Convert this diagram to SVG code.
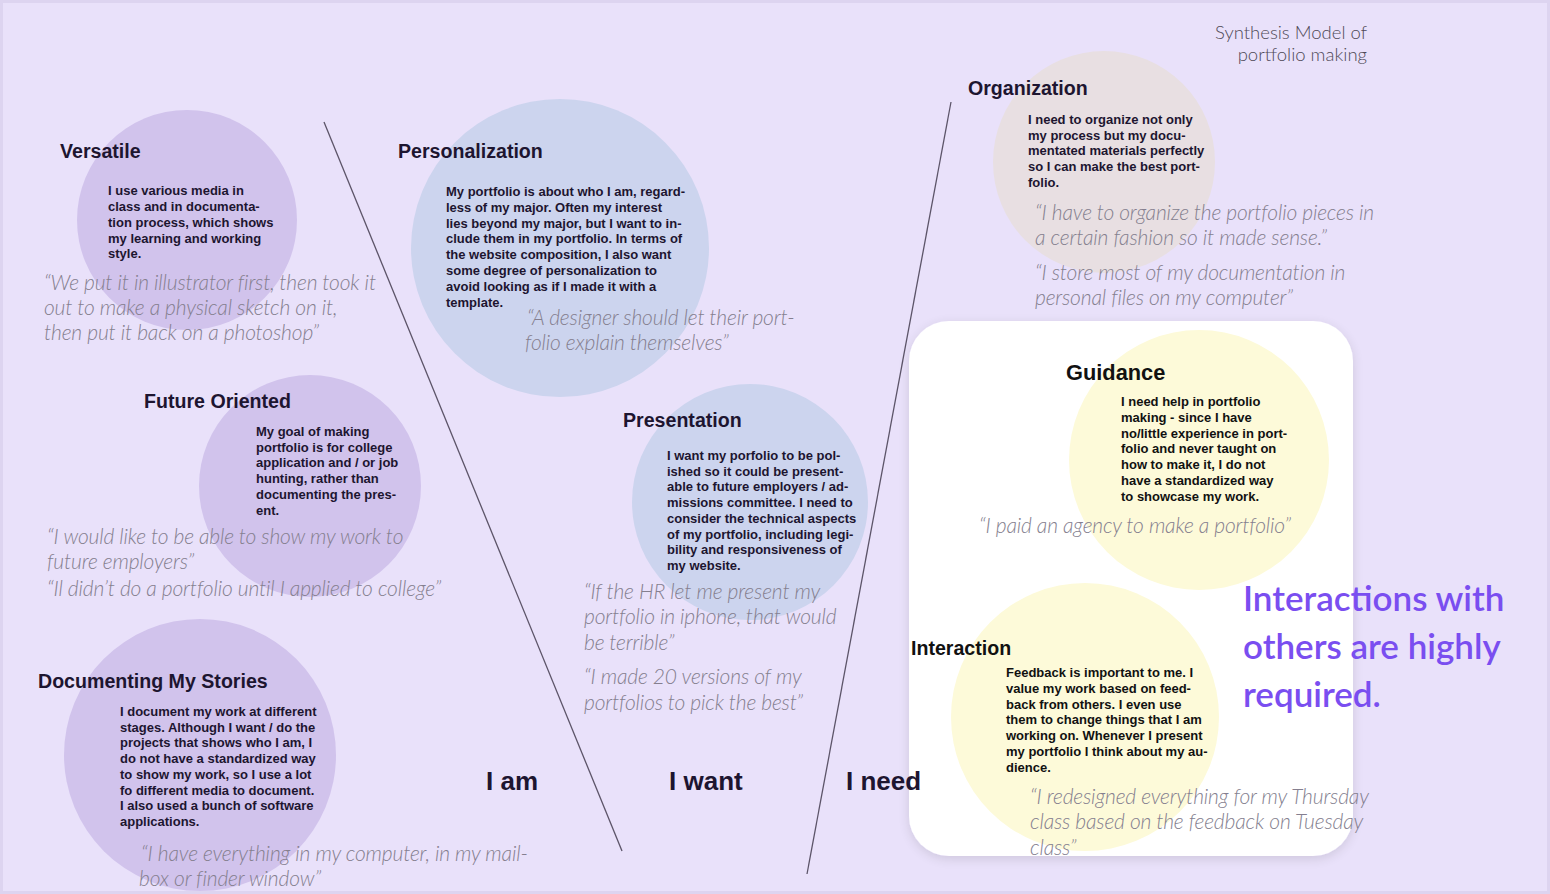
<svg xmlns="http://www.w3.org/2000/svg" width="1550" height="894" viewBox="0 0 1550 894">
<defs>
<style>
.h{font-family:"Liberation Sans",Arial,sans-serif;font-weight:bold;font-size:19.6px;fill:#1d1530}
.b{font-family:"Liberation Sans",Arial,sans-serif;font-weight:bold;font-size:13px;fill:#1d1530}
.q{font-family:Lato,"Liberation Sans",sans-serif;font-style:italic;font-weight:300;font-size:21px;fill:#857f8f;letter-spacing:-0.15px}
.lab{font-family:"Liberation Sans",Arial,sans-serif;font-weight:bold;font-size:26px;fill:#1d1530}
.ttl{font-family:Lato,"Open Sans",sans-serif;font-weight:300;font-size:18.5px;fill:#4f4a57}
.hi{font-family:Lato,"Open Sans",sans-serif;font-weight:600;font-size:35px;fill:#7a4ef0}
.div{stroke:#5c5468;stroke-width:1.3;fill:none}
.k{fill:#111}
</style>
<filter id="sh" x="-10%" y="-10%" width="120%" height="120%">
<feGaussianBlur in="SourceAlpha" stdDeviation="6"/>
<feOffset dx="0" dy="3"/>
<feComponentTransfer><feFuncA type="linear" slope="0.12"/></feComponentTransfer>
<feMerge><feMergeNode/><feMergeNode in="SourceGraphic"/></feMerge>
</filter>
</defs>
<rect x="0" y="0" width="1550" height="894" fill="#e9e1fa"/>
<rect x="0" y="0" width="1550" height="894" fill="none" stroke="#ddd4f0" stroke-width="6"/>

<text class="ttl" text-anchor="end" x="1367" y="39">Synthesis Model of</text>
<text class="ttl" text-anchor="end" x="1367" y="61">portfolio making</text>

<g id="connectors">
<line class="div" x1="324" y1="122" x2="622" y2="851"/>
<line class="div" x1="951" y1="102" x2="807" y2="874"/>
</g>

<g id="versatile">
<circle cx="187" cy="220" r="110" fill="#d1c3ec"/>
<text class="h" x="60" y="158">Versatile</text>
<text class="b" x="108" y="195">I use various media in</text>
<text class="b" x="108" y="211">class and in documenta-</text>
<text class="b" x="108" y="227">tion process, which shows</text>
<text class="b" x="108" y="242.5">my learning and working</text>
<text class="b" x="108" y="258">style.</text>
<text class="q" x="44" y="290">“We put it in illustrator first, then took it</text>
<text class="q" x="44" y="315">out to make a physical sketch on it,</text>
<text class="q" x="44" y="340">then put it back on a photoshop”</text>
</g>

<g id="personalization">
<circle cx="560" cy="248" r="149" fill="#ccd4ee"/>
<text class="h" x="398" y="158">Personalization</text>
<text class="b" x="446" y="196">My portfolio is about who I am, regard-</text>
<text class="b" x="446" y="211.8">less of my major. Often my interest</text>
<text class="b" x="446" y="227.6">lies beyond my major, but I want to in-</text>
<text class="b" x="446" y="243.4">clude them in my portfolio. In terms of</text>
<text class="b" x="446" y="259.2">the website composition, I also want</text>
<text class="b" x="446" y="275">some degree of personalization to</text>
<text class="b" x="446" y="290.8">avoid looking as if I made it with a</text>
<text class="b" x="446" y="306.6">template.</text>
<text class="q" x="527" y="325">“A designer should let their port-</text>
<text class="q" x="525" y="350">folio explain themselves”</text>
</g>

<g id="future">
<circle cx="310" cy="486" r="111" fill="#d1c3ec"/>
<text class="h" x="144" y="408">Future Oriented</text>
<text class="b" x="256" y="436">My goal of making</text>
<text class="b" x="256" y="451.7">portfolio is for college</text>
<text class="b" x="256" y="467.4">application and / or job</text>
<text class="b" x="256" y="483.1">hunting, rather than</text>
<text class="b" x="256" y="498.8">documenting the pres-</text>
<text class="b" x="256" y="514.5">ent.</text>
<text class="q" x="47" y="544">“I would like to be able to show my work to</text>
<text class="q" x="47" y="569">future employers”</text>
<text class="q" x="47" y="596">“Il didn’t do a portfolio until I applied to college”</text>
</g>

<g id="presentation">
<circle cx="750" cy="502" r="118" fill="#ccd4ee"/>
<text class="h" x="623" y="427">Presentation</text>
<text class="b" x="667" y="460">I want my porfolio to be pol-</text>
<text class="b" x="667" y="475.7">ished so it could be present-</text>
<text class="b" x="667" y="491.4">able to future employers / ad-</text>
<text class="b" x="667" y="507.1">missions committee. I need to</text>
<text class="b" x="667" y="522.8">consider the technical aspects</text>
<text class="b" x="667" y="538.5">of my portfolio, including legi-</text>
<text class="b" x="667" y="554.2">bility and responsiveness of</text>
<text class="b" x="667" y="569.9">my website.</text>
<text class="q" x="584" y="599">“If the HR let me present my</text>
<text class="q" x="584" y="624">portfolio in iphone, that would</text>
<text class="q" x="584" y="650">be terrible”</text>
<text class="q" x="584" y="684">“I made 20 versions of my</text>
<text class="q" x="584" y="710">portfolios to pick the best”</text>
</g>

<g id="documenting">
<circle cx="200" cy="755" r="136" fill="#d1c3ec"/>
<text class="h" x="38" y="688">Documenting My Stories</text>
<text class="b" x="120" y="716">I document my work at different</text>
<text class="b" x="120" y="731.7">stages. Although I want / do the</text>
<text class="b" x="120" y="747.4">projects that shows who I am, I</text>
<text class="b" x="120" y="763.1">do not have a standardized way</text>
<text class="b" x="120" y="778.8">to show my work, so I use a lot</text>
<text class="b" x="120" y="794.5">fo different media to document.</text>
<text class="b" x="120" y="810.2">I also used a bunch of software</text>
<text class="b" x="120" y="825.9">applications.</text>
<text class="q" x="141" y="861">“I have everything in my computer, in my mail-</text>
<text class="q" x="139" y="886">box or finder window”</text>
</g>

<g id="organization">
<circle cx="1104" cy="162" r="111" fill="#e8dfe2"/>
<text class="h" x="968" y="95">Organization</text>
<text class="b" x="1028" y="124">I need to organize not only</text>
<text class="b" x="1028" y="139.7">my process but my docu-</text>
<text class="b" x="1028" y="155.4">mentated materials perfectly</text>
<text class="b" x="1028" y="171.1">so I can make the best port-</text>
<text class="b" x="1028" y="186.8">folio.</text>
<text class="q" x="1035" y="220">“I have to organize the portfolio pieces in</text>
<text class="q" x="1035" y="245">a certain fashion so it made sense.”</text>
<text class="q" x="1035" y="280">“I store most of my documentation in</text>
<text class="q" x="1035" y="305">personal files on my computer”</text>
</g>

<g id="card">
<rect x="909" y="321" width="444" height="535" rx="40" fill="#ffffff" filter="url(#sh)"/>
</g>

<g id="guidance">
<circle cx="1199" cy="460" r="130" fill="#fdfad9"/>
<text class="h k" x="1066" y="380" style="font-size:21.8px">Guidance</text>
<text class="b k" x="1121" y="406">I need help in portfolio</text>
<text class="b k" x="1121" y="421.8">making - since I have</text>
<text class="b k" x="1121" y="437.6">no/little experience in port-</text>
<text class="b k" x="1121" y="453.4">folio and never taught on</text>
<text class="b k" x="1121" y="469.2">how to make it, I do not</text>
<text class="b k" x="1121" y="485">have a standardized way</text>
<text class="b k" x="1121" y="500.8">to showcase my work.</text>
<text class="q" x="979" y="533">“I paid an agency to make a portfolio”</text>
</g>

<g id="interaction">
<circle cx="1085" cy="717" r="134" fill="#fdfad9"/>
<text class="h k" x="911" y="655" style="font-size:19.6px">Interaction</text>
<text class="b k" x="1006" y="677">Feedback is important to me. I</text>
<text class="b k" x="1006" y="692.8">value my work based on feed-</text>
<text class="b k" x="1006" y="708.6">back from others. I even use</text>
<text class="b k" x="1006" y="724.4">them to change things that I am</text>
<text class="b k" x="1006" y="740.2">working on. Whenever I present</text>
<text class="b k" x="1006" y="756">my portfolio I think about my au-</text>
<text class="b k" x="1006" y="771.8">dience.</text>
<text class="q" x="1030" y="804">“I redesigned everything for my Thursday</text>
<text class="q" x="1030" y="829">class based on the feedback on Tuesday</text>
<text class="q" x="1030" y="855">class”</text>
</g>

<g id="labels">
<text class="lab" x="486" y="790">I am</text>
<text class="lab" x="669" y="790">I want</text>
<text class="lab" x="846" y="790">I need</text>
</g>

<g id="highlight">
<text class="hi" x="1243" y="611">Interactions with</text>
<text class="hi" x="1243" y="659">others are highly</text>
<text class="hi" x="1243" y="707">required.</text>
</g>
</svg>
